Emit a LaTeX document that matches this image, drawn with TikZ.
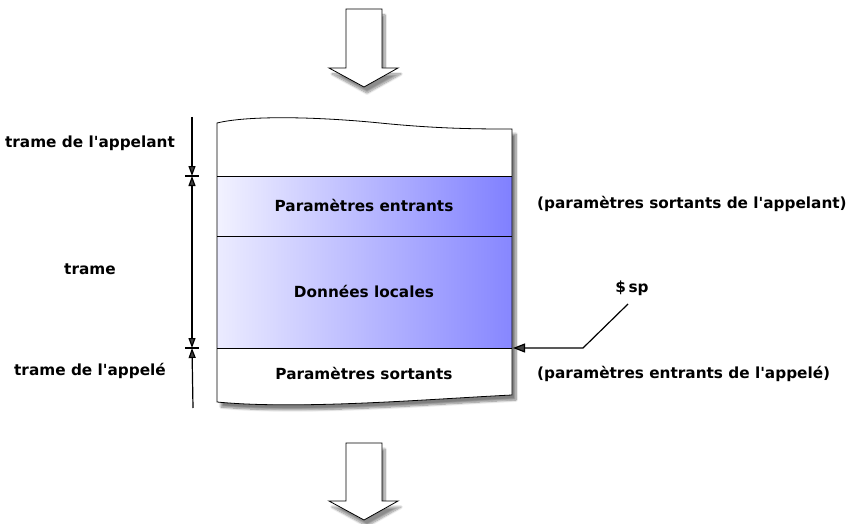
\documentclass[tikz,border=0pt]{standalone}
\usepackage{fontspec}
\setmainfont{DejaVu Sans}[Ligatures=TeXOff]
\usetikzlibrary{arrows.meta,shadows.blur}
\definecolor{bandL}{RGB}{255,255,255}
\definecolor{bandR}{RGB}{115,115,255}
\tikzset{
  lbl/.style={font=\fontsize{15.3}{17}\selectfont\bfseries, inner sep=1pt},
  bigarrow/.style={draw=black, fill=white, line width=0.8pt, line join=miter,
    blur shadow={shadow xshift=3pt, shadow yshift=-6pt, shadow blur steps=10, shadow opacity=45}},
  tipA/.tip={Triangle[length=10pt,width=7pt]},
  dim/.style={line width=1.2pt},
  sep/.style={line width=0.8pt},
  band/.style={left color=bandL, right color=bandR},
}
\begin{document}
\begin{tikzpicture}[x=1pt,y=-1pt]
\useasboundingbox (0,0) rectangle (851,524);
% top arrow
\path[bigarrow] (346,9) -- (382,9) -- (382,68) -- (398,68) -- (364,87) -- (329,68) -- (346,68) -- cycle;
% bottom arrow
\path[bigarrow] (346,443) -- (382,443) -- (382,501) -- (398,501) -- (364,520) -- (329,501) -- (346,501) -- cycle;
% stack box with shadow
\path[fill=white, blur shadow={shadow xshift=4pt, shadow yshift=-5pt, shadow blur steps=8, shadow opacity=50}]
  (217,123) .. controls (250,115) and (320,117) .. (380,123) .. controls (440,129) and (480,129) .. (512,129)
  -- (512,395) .. controls (430,399) and (300,410) .. (217,402) -- cycle;
\begin{scope}
  \clip (217,176) rectangle (512,236);
  \shade[band, shift={(364.5,206)}, rotate=28] (-146,-110) rectangle (146,110);
\end{scope}
\begin{scope}
  \clip (217,236) rectangle (512,348);
  \shade[band, shift={(364.5,292)}, rotate=28] (-158,-140) rectangle (158,140);
\end{scope}
\draw[sep] (217,123) .. controls (250,115) and (320,117) .. (380,123) .. controls (440,129) and (480,129) .. (512,129)
  -- (512,395) .. controls (430,399) and (300,410) .. (217,402) -- cycle;
\draw[sep] (217,176) -- (512,176);
\draw[sep] (217,236) -- (512,236);
\draw[sep] (217,348) -- (512,348);
% labels inside
\node[lbl] (pe) at (364,205) {Paramètres entrants};
\node[lbl] (dl) at (364,291) {Données locales};
\node[lbl] (ps) at (364,373) {Paramètres sortants};
% right labels
\node[lbl, anchor=west] (pse) at (536,204) {(paramètres sortants de l'appelant)};
\node[lbl, anchor=west] (pea) at (536,374) {(paramètres entrants de l'appelé)};
% left labels
\node[lbl] (ta) at (90,143) {trame de l'appelant};
\node[lbl] (tr) at (90,269) {trame};
\node[lbl] (te) at (90,371) {trame de l'appelé};
% dimension line
\coordinate (d0) at (192,117);
\coordinate (d1) at (192,176);
\coordinate (d2) at (192,348);
\coordinate (d3) at (193,408);
\draw[dim, -tipA] (d0) -- (d1);
\draw[dim, tipA-tipA] (d1) -- (d2);
\draw[dim, tipA-] (d2) -- (d3);
\draw[line width=1.2pt] ([xshift=-7pt]d1) -- ([xshift=7pt]d1);
\draw[line width=1.2pt] ([xshift=-7pt]d2) -- ([xshift=7pt]d2);
% $sp pointer
\node[lbl] (sp) at (632,288) {\$\,sp};
\coordinate (spb) at (583,348);
\coordinate (spt) at (513,348);
\draw[line width=1.2pt, -{Triangle[length=12pt,width=9pt]}] (628,304) -- (spb) -- (spt);
\end{tikzpicture}
\end{document}
